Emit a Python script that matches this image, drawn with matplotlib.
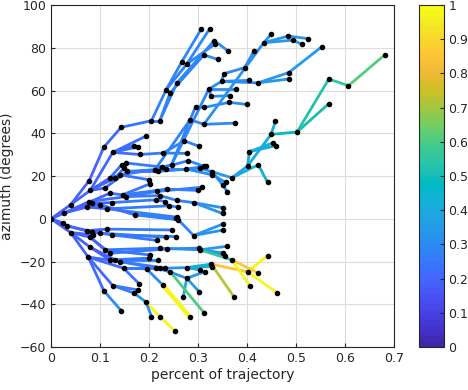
import numpy as np
import matplotlib
matplotlib.use("Agg")
import matplotlib.pyplot as plt
from matplotlib.collections import LineCollection
from matplotlib.colors import LinearSegmentedColormap

# node positions of the tree (percent of trajectory, azimuth in degrees)
node_x = [0.000, 0.027, 0.040, 0.025, 0.040, 0.033, 0.078, 0.108, 0.143, 0.205,   # 0
          0.222, 0.235, 0.267, 0.307, 0.277, 0.324, 0.257, 0.333, 0.362, 0.243,   # 10
          0.312, 0.340, 0.335, 0.080, 0.126, 0.193, 0.169, 0.178, 0.181, 0.229,   # 20
          0.272, 0.302, 0.278, 0.246, 0.295, 0.312, 0.322, 0.327, 0.377, 0.365,   # 30
          0.364, 0.400, 0.284, 0.312, 0.376, 0.348, 0.353, 0.395, 0.414, 0.405,   # 40
          0.422, 0.485, 0.485, 0.552, 0.434, 0.449, 0.484, 0.524, 0.494, 0.512,   # 50
          0.401, 0.369, 0.423, 0.449, 0.458, 0.405, 0.452, 0.460, 0.502, 0.567,   # 60
          0.607, 0.681, 0.567, 0.442, 0.120, 0.131, 0.110, 0.120, 0.078, 0.083,   # 70
          0.073, 0.100, 0.114, 0.124, 0.144, 0.149, 0.156, 0.141, 0.146, 0.154,   # 80
          0.154, 0.227, 0.234, 0.212, 0.219, 0.276, 0.280, 0.304, 0.316, 0.313,   # 90
          0.329, 0.329, 0.357, 0.350, 0.360, 0.199, 0.202, 0.216, 0.236, 0.222,   # 100
          0.214, 0.257, 0.291, 0.299, 0.308, 0.233, 0.241, 0.260, 0.257, 0.171,   # 110
          0.350, 0.350, 0.256, 0.260, 0.291, 0.350, 0.350, 0.074, 0.083, 0.086,   # 120
          0.080, 0.100, 0.115, 0.125, 0.080, 0.076, 0.110, 0.120, 0.120, 0.131,   # 130
          0.141, 0.148, 0.126, 0.108, 0.143, 0.246, 0.256, 0.234, 0.216, 0.222,   # 140
          0.236, 0.301, 0.202, 0.199, 0.219, 0.304, 0.360, 0.350, 0.356, 0.369,   # 150
          0.233, 0.222, 0.214, 0.195, 0.277, 0.277, 0.327, 0.329, 0.304, 0.314,   # 160
          0.401, 0.442, 0.461, 0.423, 0.406, 0.374, 0.270, 0.302, 0.228, 0.284,   # 170
          0.243, 0.313, 0.178, 0.170, 0.194, 0.222, 0.252, 0.205, 0.180]          # 180

node_y = [0.0, 2.7, 6.6, -2.0, -6.4, -3.3, 17.9, 33.6, 42.8, 45.9,
          45.9, 60.4, 73.5, 89.0, 72.4, 89.0, 63.6, 83.4, 78.4, 58.9,
          76.7, 74.6, 81.8, 13.3, 31.1, 38.6, 34.3, 33.7, 30.1, 30.8,
          36.5, 33.9, 30.6, 25.3, 52.5, 52.1, 60.7, 57.3, 60.7, 57.6,
          54.5, 53.5, 46.4, 44.2, 44.8, 64.3, 67.9, 70.7, 78.5, 64.8,
          63.6, 68.4, 65.4, 80.4, 82.4, 86.3, 85.5, 84.3, 83.6, 81.6,
          24.7, 19.2, 25.3, 39.5, 45.6, 31.4, 35.5, 34.3, 40.6, 65.4,
          62.3, 76.7, 53.9, 17.0, 19.1, 19.1, 14.4, 12.0, 8.1, 7.3,
          5.5, 6.6, 4.7, 7.6, 25.3, 23.7, 22.2, 20.6, 11.2, 10.4,
          26.1, 24.2, 23.3, 23.0, 22.2, 23.3, 27.2, 23.7, 24.6, 24.5,
          22.0, 20.6, 17.0, 15.9, 12.6, 18.3, 16.4, 12.8, 13.9, 10.9,
          8.9, 8.6, 7.6, 13.3, 14.8, 8.1, 6.1, 5.5, 0.8, 1.9,
          5.2, 2.5, 0.3, -0.5, -7.8, -2.5, -5.3, -5.5, -6.2, -7.5,
          -8.6, -6.7, -4.8, -7.5, -13.3, -17.9, -14.5, -16.1, -19.2, -19.2,
          -20.0, -23.1, -31.2, -33.7, -42.9, -5.2, -8.3, -8.6, -10.1, -13.7,
          -14.1, -13.7, -16.9, -18.4, -19.2, -14.5, -12.8, -15.9, -17.2, -19.2,
          -23.1, -23.1, -23.1, -23.4, -22.8, -27.8, -21.2, -22.3, -23.9, -24.7,
          -24.8, -17.2, -34.5, -25.4, -31.4, -36.7, -36.4, -34.0, -30.9, -46.1,
          -24.7, -44.2, -33.3, -34.8, -39.0, -45.7, -52.3, -45.7, -30.4]

node_parent = [-1, 0, 0, 0, 0, 0, 2, 6, 7, 8,
               9, 9, 11, 12, 11, 14, 10, 16, 17, 10,
               19, 20, 14, 2, 23, 24, 24, 24, 24, 28,
               29, 30, 29, 91, 33, 34, 33, 36, 36, 37,
               35, 40, 93, 42, 43, 36, 45, 46, 47, 45,
               45, 50, 50, 51, 43, 54, 54, 56, 54, 58,
               61, 100, 61, 60, 63, 60, 65, 65, 63, 68,
               69, 70, 68, 62, 23, 23, 23, 1, 1, 1,
               1, 80, 80, 79, 74, 75, 76, 74, 77, 78,
               85, 90, 86, 87, 86, 92, 93, 94, 95, 96,
               97, 95, 101, 100, 103, 87, 88, 89, 88, 89,
               83, 109, 111, 108, 107, 110, 82, 116, 82, 81,
               112, 112, 119, 119, 123, 124, 124, 5, 5, 4,
               4, 127, 127, 128, 4, 4, 130, 130, 134, 134,
               135, 135, 135, 135, 143, 132, 133, 131, 133, 136,
               137, 150, 136, 138, 139, 149, 155, 155, 151, 155,
               140, 141, 140, 141, 160, 161, 164, 164, 164, 165,
               166, 170, 170, 159, 159, 166, 165, 165, 163, 178,
               162, 180, 142, 142, 183, 184, 185, 184, 141]

# value of the segment ending at each node (colour scale 0..1)
node_value = [0.20, 0.18, 0.18, 0.18, 0.18, 0.18, 0.19, 0.20, 0.21, 0.24,
              0.25, 0.27, 0.28, 0.29, 0.28, 0.29, 0.27, 0.29, 0.30, 0.27,
              0.29, 0.30, 0.29, 0.19, 0.20, 0.23, 0.22, 0.22, 0.22, 0.25,
              0.27, 0.28, 0.27, 0.27, 0.28, 0.29, 0.29, 0.29, 0.30, 0.30,
              0.30, 0.31, 0.28, 0.29, 0.30, 0.30, 0.30, 0.31, 0.32, 0.31,
              0.31, 0.33, 0.33, 0.35, 0.32, 0.33, 0.33, 0.34, 0.33, 0.34,
              0.38, 0.35, 0.40, 0.42, 0.43, 0.40, 0.42, 0.42, 0.47, 0.52,
              0.55, 0.62, 0.50, 0.44, 0.20, 0.20, 0.20, 0.20, 0.19, 0.19,
              0.19, 0.20, 0.20, 0.20, 0.22, 0.22, 0.22, 0.22, 0.22, 0.22,
              0.23, 0.26, 0.26, 0.25, 0.25, 0.28, 0.28, 0.29, 0.29, 0.29,
              0.30, 0.30, 0.31, 0.31, 0.31, 0.24, 0.24, 0.25, 0.25, 0.25,
              0.25, 0.27, 0.28, 0.28, 0.28, 0.26, 0.26, 0.27, 0.27, 0.23,
              0.32, 0.32, 0.27, 0.27, 0.28, 0.32, 0.32, 0.19, 0.19, 0.19,
              0.19, 0.20, 0.20, 0.20, 0.19, 0.19, 0.20, 0.20, 0.20, 0.20,
              0.21, 0.21, 0.21, 0.21, 0.30, 0.26, 0.26, 0.26, 0.25, 0.25,
              0.26, 0.29, 0.24, 0.24, 0.25, 0.30, 0.33, 0.33, 0.33, 0.55,
              0.26, 0.26, 0.25, 0.25, 0.32, 0.30, 0.45, 0.42, 0.40, 0.35,
              0.85, 0.97, 0.97, 0.87, 0.97, 0.72, 0.40, 0.35, 0.30, 0.98,
              0.30, 0.60, 0.25, 0.25, 0.35, 0.97, 0.97, 0.30, 0.24]

# MATLAB parula, sampled
parula_pts = [[0.2422, 0.1504, 0.6603], [0.2647, 0.1978, 0.7952], [0.2783, 0.2559, 0.8991],
              [0.2810, 0.3228, 0.9579], [0.2699, 0.3892, 0.9906], [0.2206, 0.4603, 0.9973],
              [0.1786, 0.5289, 0.9682], [0.1540, 0.5902, 0.9218], [0.1248, 0.6459, 0.8883],
              [0.0689, 0.6948, 0.8394], [0.0067, 0.7312, 0.7660], [0.1408, 0.7584, 0.6842],
              [0.2161, 0.7843, 0.5923], [0.3406, 0.8008, 0.4789], [0.5044, 0.7993, 0.3480],
              [0.6720, 0.7793, 0.2227], [0.8203, 0.7498, 0.1535], [0.9393, 0.7288, 0.2100],
              [0.9970, 0.7659, 0.2199], [0.9786, 0.8386, 0.1766], [0.9597, 0.9135, 0.1423],
              [0.9769, 0.9839, 0.0805]]
parula = LinearSegmentedColormap.from_list("parula", parula_pts, N=64)

fig = plt.figure(figsize=(4.68, 3.9), dpi=100)
ax = fig.add_axes([0.109, 0.110, 0.733, 0.877])

segs = []
vals = []
widths = []
for i in range(len(node_x)):
    p = node_parent[i]
    if p < 0:
        continue
    segs.append([(node_x[p], node_y[p]), (node_x[i], node_y[i])])
    vals.append(node_value[i])
    widths.append(3.2 if node_value[i] > 0.975 else 2.0)

lc = LineCollection(segs, cmap=parula, linewidths=widths, capstyle="round", zorder=3)
lc.set_array(np.array(vals))
lc.set_clim(0, 1)
ax.add_collection(lc)
ax.plot(node_x, node_y, "o", color="black", ms=3.0, zorder=4)

tc = "#262626"
ax.set_xlim(0, 0.7)
ax.set_ylim(-60, 100)
ax.set_xticks(np.arange(0, 0.71, 0.1))
ax.set_xticklabels(["0", "0.1", "0.2", "0.3", "0.4", "0.5", "0.6", "0.7"])
ax.set_yticks(np.arange(-60, 101, 20))
ax.grid(True, color="#dcdcdc", lw=0.8)
ax.set_axisbelow(True)
ax.tick_params(direction="in", length=3, labelsize=9, colors=tc)
for s in ax.spines.values():
    s.set_color(tc)
    s.set_linewidth(0.8)
ax.set_xlabel("percent of trajectory", fontsize=10, color=tc, labelpad=2)
ax.set_ylabel("azimuth (degrees)", fontsize=10, color=tc, labelpad=4)

cax = fig.add_axes([0.895, 0.110, 0.053, 0.877])
cb = fig.colorbar(lc, cax=cax, ticks=np.arange(0, 1.01, 0.1))
cb.ax.set_yticklabels(["0", "0.1", "0.2", "0.3", "0.4", "0.5", "0.6", "0.7", "0.8", "0.9", "1"])
cb.ax.tick_params(direction="in", length=3, labelsize=9, colors=tc)
cb.outline.set_edgecolor(tc)
cb.outline.set_linewidth(0.8)

fig.savefig("out.png", dpi=100)
